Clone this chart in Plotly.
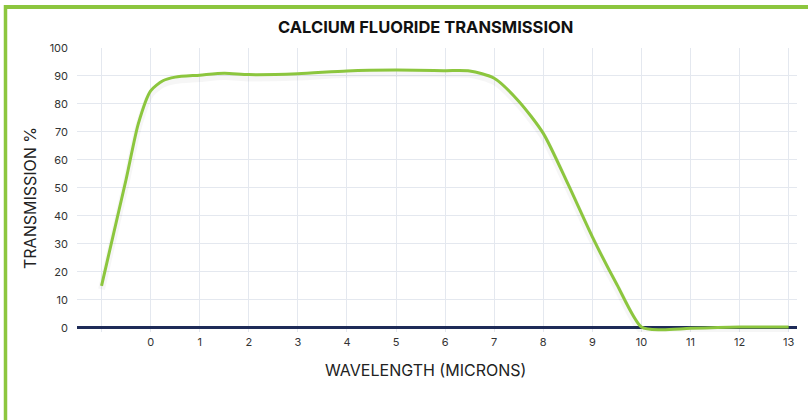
import plotly.graph_objects as go

# Data
wavelength = [-1, -0.5, -0.25, 0, 0.25, 0.5, 1, 1.5, 2, 3, 4, 5, 6, 6.5, 7, 7.5, 8, 8.5, 9, 9.5, 10, 10.4, 11, 12, 13]
transmission = [15, 53, 73, 84.7, 88.3, 89.6, 90.3, 91.0, 90.5, 90.8, 91.8, 92.1, 91.9, 91.8, 89.2, 81.0, 69.5, 51.5, 32.5, 15.5, 0.3, -0.7, -0.2, 0.3, 0.3]
x_tick_vals = list(range(-1, 14))
x_tick_text = [""] + [str(v) for v in range(0, 14)]
y_tick_vals = list(range(0, 101, 10))

GREEN = "#8cc63e"
NAVY = "#1e2b58"
GRID = "#e4e8ef"
FONT = "Inter"

fig = go.Figure()
# soft shadow under the curve
fig.add_trace(go.Scatter(
    x=wavelength, y=[v - 1.2 for v in transmission], mode="lines",
    line=dict(color="rgba(0,0,0,0.035)", width=7, shape="spline", smoothing=0.7),
    hoverinfo="skip", showlegend=False))
fig.add_trace(go.Scatter(
    x=wavelength, y=transmission, mode="lines",
    line=dict(color=GREEN, width=3, shape="spline", smoothing=0.7),
    showlegend=False))

fig.update_layout(
    width=808, height=420,
    margin=dict(l=77, r=11, t=48, b=88),
    paper_bgcolor="white", plot_bgcolor="white",
    font=dict(family=FONT, color="#333333"),
    xaxis=dict(range=[-1.5, 13.17], tickvals=x_tick_vals, ticktext=x_tick_text,
               showgrid=True, gridcolor=GRID, gridwidth=1, zeroline=False,
               showline=False, ticks="", tickfont=dict(size=11, color="#333333"),
               ticklabelstandoff=2),
    yaxis=dict(range=[-1.5, 100], tickvals=y_tick_vals,
               showgrid=True, gridcolor=GRID, gridwidth=1,
               zeroline=True, zerolinecolor=NAVY, zerolinewidth=2.5,
               showline=False, ticks="", tickfont=dict(size=11, color="#333333"),
               ticklabelstandoff=8),
    annotations=[
        dict(text="<b>CALCIUM FLUORIDE TRANSMISSION</b>", xref="paper", yref="paper",
             x=(425 - 77) / 720, y=1 + (48 - 27) / 284, xanchor="center", yanchor="middle",
             showarrow=False, font=dict(size=16.5, color="#111111", family=FONT)),
        dict(text="WAVELENGTH (MICRONS)", xref="paper", yref="paper",
             x=(425 - 77) / 720, y=-(370 - 332) / 284, xanchor="center", yanchor="middle",
             showarrow=False, font=dict(size=16, color="#222222", family=FONT)),
        dict(text="TRANSMISSION %", xref="paper", yref="paper", textangle=-90,
             x=(30 - 77) / 720, y=(332 - 198) / 284, xanchor="center", yanchor="middle",
             showarrow=False, font=dict(size=16, color="#222222", family=FONT)),
    ],
    shapes=[
        dict(type="line", xref="paper", yref="paper",
             x0=(4 - 77) / 720, x1=(808 - 77) / 720, y0=1 + (48 - 7) / 284, y1=1 + (48 - 7) / 284,
             line=dict(color=GREEN, width=4)),
        dict(type="line", xref="paper", yref="paper",
             x0=(5.5 - 77) / 720, x1=(5.5 - 77) / 720, y0=1 + (48 - 5) / 284, y1=-(420 - 332) / 284,
             line=dict(color=GREEN, width=3.5)),
    ],
)

fig.write_html("out.html", config={"displayModeBar": False},
               post_script="document.body.style.margin='0';")
